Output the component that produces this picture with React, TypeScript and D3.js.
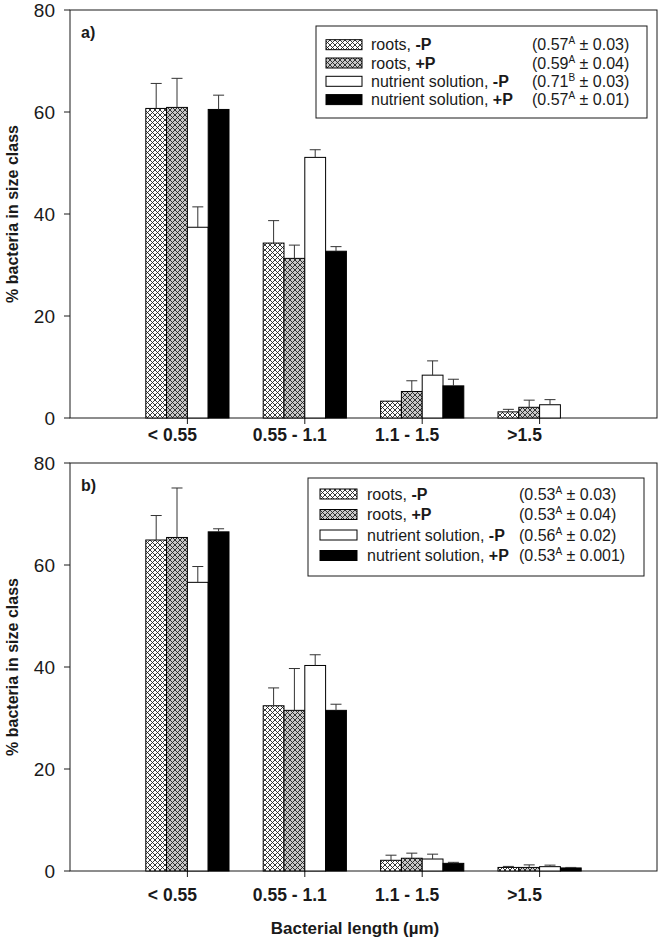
import React from "react";
import * as d3 from "d3";

// ---------- data ----------
const categories = ["< 0.55", "0.55 - 1.1", "1.1 - 1.5", ">1.5"];
const seriesBase = ["roots, ", "roots, ", "nutrient solution, ", "nutrient solution, "];
const seriesSuffix = ["-P", "+P", "-P", "+P"];
const yTicks = [0, 20, 40, 60, 80];

// panel a
const rootsMinusP_A = [60.7, 34.3, 3.3, 1.2];
const rootsMinusP_A_err = [4.9, 4.4, 0, 0.5];
const rootsPlusP_A = [60.9, 31.3, 5.2, 2.1];
const rootsPlusP_A_err = [5.7, 2.6, 2.1, 1.4];
const nutMinusP_A = [37.4, 51.1, 8.4, 2.6];
const nutMinusP_A_err = [4.0, 1.5, 2.8, 1.0];
const nutPlusP_A = [60.5, 32.7, 6.3, 0];
const nutPlusP_A_err = [2.8, 0.9, 1.3, 0];
const legendMeans_A = ["0.57", "0.59", "0.71", "0.57"];
const legendLetters_A = ["A", "A", "B", "A"];
const legendSE_A = ["0.03", "0.04", "0.03", "0.01"];

// panel b
const rootsMinusP_B = [64.9, 32.4, 2.1, 0.7];
const rootsMinusP_B_err = [4.8, 3.5, 1.0, 0.2];
const rootsPlusP_B = [65.4, 31.5, 2.5, 0.7];
const rootsPlusP_B_err = [9.7, 8.2, 1.0, 0.5];
const nutMinusP_B = [56.6, 40.3, 2.35, 0.85];
const nutMinusP_B_err = [3.1, 2.1, 0.95, 0.3];
const nutPlusP_B = [66.5, 31.5, 1.5, 0.6];
const nutPlusP_B_err = [0.6, 1.2, 0.2, 0.1];
const legendMeans_B = ["0.53", "0.53", "0.56", "0.53"];
const legendLetters_B = ["A", "A", "A", "A"];
const legendSE_B = ["0.03", "0.04", "0.02", "0.001"];

const fills = ["url(#hatchLight)", "url(#hatchDark)", "#ffffff", "#000000"];
const FONT = "'Liberation Sans', Arial, sans-serif";
const INK = "#1a1a1a";

type PanelCfg = {
  label: string;
  top: number;
  bottom: number;
  values: number[][];
  errs: number[][];
  means: string[];
  letters: string[];
  se: string[];
  legend: { x0: number; x1: number; y0: number; y1: number; rowY: number; rowGap: number; swX: number; swW: number; textX: number; valX: number };
  tickLabelY: number;
};

const panels: PanelCfg[] = [
  {
    label: "a)",
    top: 10,
    bottom: 418,
    values: [rootsMinusP_A, rootsPlusP_A, nutMinusP_A, nutPlusP_A],
    errs: [rootsMinusP_A_err, rootsPlusP_A_err, nutMinusP_A_err, nutPlusP_A_err],
    means: legendMeans_A,
    letters: legendLetters_A,
    se: legendSE_A,
    legend: { x0: 316, x1: 647, y0: 26, y1: 118, rowY: 44.7, rowGap: 18.3, swX: 326, swW: 36, textX: 371, valX: 532 },
    tickLabelY: 441,
  },
  {
    label: "b)",
    top: 463,
    bottom: 871,
    values: [rootsMinusP_B, rootsPlusP_B, nutMinusP_B, nutPlusP_B],
    errs: [rootsMinusP_B_err, rootsPlusP_B_err, nutMinusP_B_err, nutPlusP_B_err],
    means: legendMeans_B,
    letters: legendLetters_B,
    se: legendSE_B,
    legend: { x0: 308, x1: 644, y0: 478, y1: 576, rowY: 494, rowGap: 20.5, swX: 320, swW: 37, textX: 367, valX: 519 },
    tickLabelY: 901,
  },
];

const LEFT = 70;
const RIGHT = 657;
const STEP = (RIGHT - LEFT) / 5;

function Panel({ cfg }: { cfg: PanelCfg }) {
  const x = d3.scalePoint<string>().domain(categories).range([LEFT + STEP, RIGHT - STEP]);
  const y = d3.scaleLinear().domain([0, 80]).range([cfg.bottom, cfg.top]);
  const inner = d3.scaleBand<number>().domain([0, 1, 2, 3]).range([-41.6, 41.6]).padding(0);
  const bw = inner.bandwidth();
  const L = cfg.legend;
  const midY = (cfg.top + cfg.bottom) / 2;

  return (
    <g>
      {/* frame */}
      <rect x={LEFT} y={cfg.top} width={RIGHT - LEFT} height={cfg.bottom - cfg.top} fill="none" stroke={INK} strokeWidth={1} />
      {/* y ticks */}
      {yTicks.map((t) => (
        <g key={t}>
          <line x1={LEFT - 6} x2={LEFT} y1={y(t)} y2={y(t)} stroke={INK} />
          <text x={55} y={y(t)} dy="0.36em" textAnchor="end" fontSize={19} fontFamily={FONT} fill={INK}>
            {t}
          </text>
        </g>
      ))}
      <text
        transform={`translate(18,${midY}) rotate(-90)`}
        textAnchor="middle"
        fontSize={16}
        fontWeight="bold"
        fontFamily={FONT}
        fill={INK}
      >
        % bacteria in size class
      </text>
      {/* x ticks */}
      {categories.map((c) => (
        <g key={c}>
          <line x1={x(c)} x2={x(c)} y1={cfg.bottom} y2={cfg.bottom + 6} stroke={INK} />
          <text x={(x(c) as number) - 15} y={cfg.tickLabelY} textAnchor="middle" fontSize={17.5} fontWeight="bold" fontFamily={FONT} fill={INK}>
            {c}
          </text>
        </g>
      ))}
      {/* bars */}
      {cfg.values.map((vals, s) =>
        vals.map((v, i) => {
          if (v <= 0) return null;
          const bx = (x(categories[i]) as number) + (inner(s) as number);
          return (
            <rect key={`b${s}-${i}`} x={bx} y={y(v)} width={bw} height={y(0) - y(v)} fill={fills[s]} stroke="#000" strokeWidth={1} />
          );
        })
      )}
      {/* error bars */}
      {cfg.values.map((vals, s) =>
        vals.map((v, i) => {
          const e = cfg.errs[s][i];
          if (v <= 0 || e <= 0) return null;
          const cx = (x(categories[i]) as number) + (inner(s) as number) + bw / 2;
          return (
            <g key={`e${s}-${i}`} stroke="#333" strokeWidth={1}>
              <line x1={cx} x2={cx} y1={y(v)} y2={y(v + e)} />
              <line x1={cx - 5.5} x2={cx + 5.5} y1={y(v + e)} y2={y(v + e)} />
            </g>
          );
        })
      )}
      {/* panel label */}
      <text x={81} y={cfg.top + 28} fontSize={16} fontWeight="bold" fontFamily={FONT} fill={INK}>
        {cfg.label}
      </text>
      {/* legend */}
      <rect x={L.x0} y={L.y0} width={L.x1 - L.x0} height={L.y1 - L.y0} fill="#fff" stroke={INK} strokeWidth={1} />
      {seriesBase.map((name, s) => {
        const cy = L.rowY + s * L.rowGap;
        return (
          <g key={`l${s}`}>
            <rect x={L.swX} y={cy - 5} width={L.swW} height={10} fill={fills[s]} stroke="#000" strokeWidth={1} />
            <text x={L.textX} y={cy} dy="0.36em" fontSize={16} fontFamily={FONT} fill={INK}>
              {name}
              <tspan fontWeight="bold">{seriesSuffix[s]}</tspan>
            </text>
            <text x={L.valX} y={cy} dy="0.36em" fontSize={16} fontFamily={FONT} fill={INK}>
              ({cfg.means[s]}
              <tspan fontSize={10} dy="-6">{cfg.letters[s]}</tspan>
              <tspan dy="6"> ± {cfg.se[s]})</tspan>
            </text>
          </g>
        );
      })}
    </g>
  );
}

export default function App() {
  return (
    <svg width={659} height={943} style={{ position: "absolute", left: 0, top: 0, background: "#fff" }}>
      <defs>
        <pattern id="hatchLight" patternUnits="userSpaceOnUse" width={5} height={5}>
          <rect width={5} height={5} fill="#fff" />
          <path d="M0,0 L5,5 M5,0 L0,5" stroke="#222" strokeWidth={0.9} />
        </pattern>
        <pattern id="hatchDark" patternUnits="userSpaceOnUse" width={5} height={5}>
          <rect width={5} height={5} fill="#c8c8c8" />
          <path d="M0,0 L5,5 M5,0 L0,5" stroke="#222" strokeWidth={0.9} />
        </pattern>
      </defs>
      <rect width={659} height={943} fill="#fff" />
      {panels.map((p) => (
        <Panel key={p.label} cfg={p} />
      ))}
      <text x={355} y={934} textAnchor="middle" fontSize={17} fontWeight="bold" fontFamily={FONT} fill={INK}>
        Bacterial length (µm)
      </text>
    </svg>
  );
}
